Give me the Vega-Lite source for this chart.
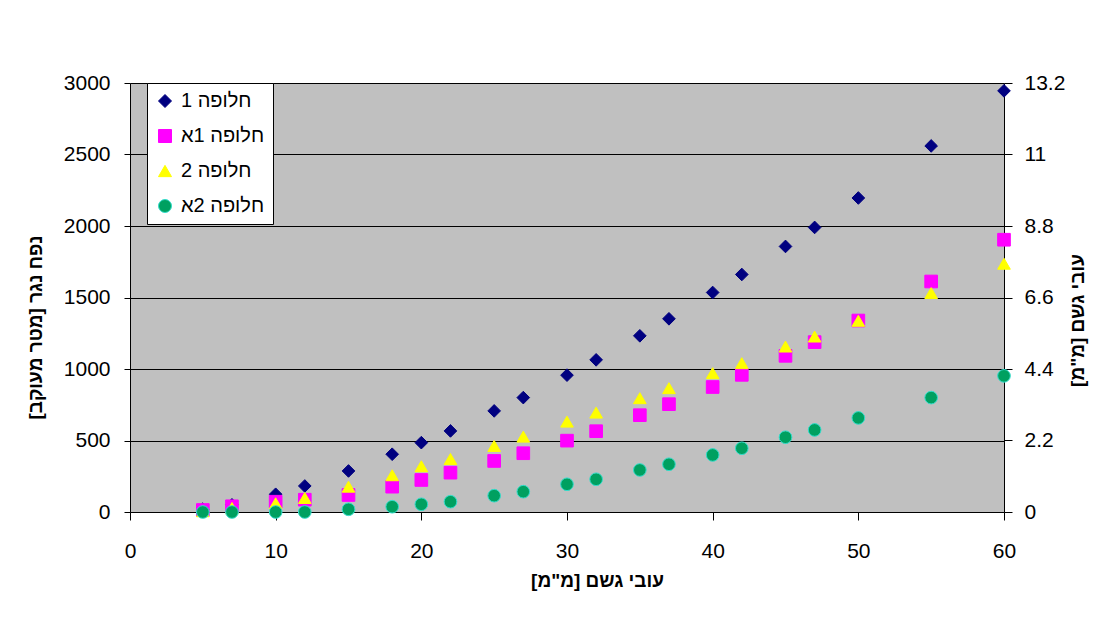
{
  "$schema": "https://vega.github.io/schema/vega-lite/v6.json",
  "width": 874,
  "height": 429,
  "autosize": "none",
  "padding": {"left": 130, "top": 83, "right": 98, "bottom": 107},
  "background": "white",
  "config": {
    "view": {"fill": "#C0C0C0", "stroke": null},
    "font": "Liberation Sans",
    "legend": {
      "orient": "none",
      "legendX": 17,
      "legendY": 0,
      "fillColor": "white",
      "strokeColor": "#000000",
      "padding": 8,
      "rowPadding": 15,
      "labelFontSize": 20,
      "labelFont": "Liberation Sans",
      "labelColor": "#000000",
      "labelOffset": 6,
      "symbolSize": 169,
      "symbolStrokeWidth": 1,
      "labelExpr": "'\u202B' + datum.label + '\u202C'"
    }
  },
  "layer": [
    {
      "data": {
        "values": [
          {"series": "חלופה 1", "rain": 5, "volume": 20},
          {"series": "חלופה 1", "rain": 7, "volume": 50},
          {"series": "חלופה 1", "rain": 10, "volume": 124},
          {"series": "חלופה 1", "rain": 12, "volume": 182},
          {"series": "חלופה 1", "rain": 15, "volume": 287},
          {"series": "חלופה 1", "rain": 18, "volume": 404},
          {"series": "חלופה 1", "rain": 20, "volume": 485},
          {"series": "חלופה 1", "rain": 22, "volume": 567},
          {"series": "חלופה 1", "rain": 25, "volume": 707},
          {"series": "חלופה 1", "rain": 27, "volume": 800},
          {"series": "חלופה 1", "rain": 30, "volume": 957},
          {"series": "חלופה 1", "rain": 32, "volume": 1064},
          {"series": "חלופה 1", "rain": 35, "volume": 1232},
          {"series": "חלופה 1", "rain": 37, "volume": 1351},
          {"series": "חלופה 1", "rain": 40, "volume": 1535},
          {"series": "חלופה 1", "rain": 42, "volume": 1661},
          {"series": "חלופה 1", "rain": 45, "volume": 1857},
          {"series": "חלופה 1", "rain": 47, "volume": 1990},
          {"series": "חלופה 1", "rain": 50, "volume": 2196},
          {"series": "חלופה 1", "rain": 55, "volume": 2560},
          {"series": "חלופה 1", "rain": 60, "volume": 2945},
          {"series": "חלופה 1א", "rain": 5, "volume": 14},
          {"series": "חלופה 1א", "rain": 7, "volume": 40},
          {"series": "חלופה 1א", "rain": 10, "volume": 72},
          {"series": "חלופה 1א", "rain": 12, "volume": 86},
          {"series": "חלופה 1א", "rain": 15, "volume": 119},
          {"series": "חלופה 1א", "rain": 18, "volume": 177},
          {"series": "חלופה 1א", "rain": 20, "volume": 224},
          {"series": "חלופה 1א", "rain": 22, "volume": 275},
          {"series": "חלופה 1א", "rain": 25, "volume": 357},
          {"series": "חלופה 1א", "rain": 27, "volume": 411},
          {"series": "חלופה 1א", "rain": 30, "volume": 499},
          {"series": "חלופה 1א", "rain": 32, "volume": 565},
          {"series": "חלופה 1א", "rain": 35, "volume": 677},
          {"series": "חלופה 1א", "rain": 37, "volume": 754},
          {"series": "חלופה 1א", "rain": 40, "volume": 874},
          {"series": "חלופה 1א", "rain": 42, "volume": 959},
          {"series": "חלופה 1א", "rain": 45, "volume": 1092},
          {"series": "חלופה 1א", "rain": 47, "volume": 1188},
          {"series": "חלופה 1א", "rain": 50, "volume": 1339},
          {"series": "חלופה 1א", "rain": 55, "volume": 1612},
          {"series": "חלופה 1א", "rain": 60, "volume": 1904},
          {"series": "חלופה 2", "rain": 5, "volume": 5},
          {"series": "חלופה 2", "rain": 7, "volume": 28},
          {"series": "חלופה 2", "rain": 10, "volume": 61},
          {"series": "חלופה 2", "rain": 12, "volume": 98},
          {"series": "חלופה 2", "rain": 15, "volume": 177},
          {"series": "חלופה 2", "rain": 18, "volume": 257},
          {"series": "חלופה 2", "rain": 20, "volume": 320},
          {"series": "חלופה 2", "rain": 22, "volume": 371},
          {"series": "חלופה 2", "rain": 25, "volume": 462},
          {"series": "חלופה 2", "rain": 27, "volume": 527},
          {"series": "חלופה 2", "rain": 30, "volume": 632},
          {"series": "חלופה 2", "rain": 32, "volume": 695},
          {"series": "חלופה 2", "rain": 35, "volume": 796},
          {"series": "חלופה 2", "rain": 37, "volume": 866},
          {"series": "חלופה 2", "rain": 40, "volume": 971},
          {"series": "חלופה 2", "rain": 42, "volume": 1041},
          {"series": "חלופה 2", "rain": 45, "volume": 1157},
          {"series": "חלופה 2", "rain": 47, "volume": 1227},
          {"series": "חלופה 2", "rain": 50, "volume": 1337},
          {"series": "חלופה 2", "rain": 55, "volume": 1531},
          {"series": "חלופה 2", "rain": 60, "volume": 1736},
          {"series": "חלופה 2א", "rain": 5, "volume": 0},
          {"series": "חלופה 2א", "rain": 7, "volume": 0},
          {"series": "חלופה 2א", "rain": 10, "volume": 0},
          {"series": "חלופה 2א", "rain": 12, "volume": 0},
          {"series": "חלופה 2א", "rain": 15, "volume": 19},
          {"series": "חלופה 2א", "rain": 18, "volume": 37},
          {"series": "חלופה 2א", "rain": 20, "volume": 54},
          {"series": "חלופה 2א", "rain": 22, "volume": 72},
          {"series": "חלופה 2א", "rain": 25, "volume": 114},
          {"series": "חלופה 2א", "rain": 27, "volume": 142},
          {"series": "חלופה 2א", "rain": 30, "volume": 194},
          {"series": "חלופה 2א", "rain": 32, "volume": 229},
          {"series": "חלופה 2א", "rain": 35, "volume": 294},
          {"series": "חלופה 2א", "rain": 37, "volume": 334},
          {"series": "חלופה 2א", "rain": 40, "volume": 399},
          {"series": "חלופה 2א", "rain": 42, "volume": 446},
          {"series": "חלופה 2א", "rain": 45, "volume": 523},
          {"series": "חלופה 2א", "rain": 47, "volume": 574},
          {"series": "חלופה 2א", "rain": 50, "volume": 658},
          {"series": "חלופה 2א", "rain": 55, "volume": 800},
          {"series": "חלופה 2א", "rain": 60, "volume": 952}
        ]
      },
      "mark": {"type": "point", "filled": true, "size": 160, "strokeWidth": 1, "opacity": 1},
      "encoding": {
        "x": {
          "field": "rain",
          "type": "quantitative",
          "scale": {"domain": [0, 60], "nice": false},
          "axis": {
            "values": [0, 10, 20, 30, 40, 50, 60],
            "format": "d",
            "grid": false,
            "domainColor": "#000000",
            "tickColor": "#000000",
            "tickSize": 8,
            "labelPadding": 20,
            "labelFlush": false,
            "labelFontSize": 21,
            "labelColor": "#000000",
            "title": "\u202Bעובי גשם [מ\"מ]\u202C",
            "titleFontSize": 19,
            "titleFontWeight": "bold",
            "titleColor": "#000000",
            "titleX": 467,
            "titleY": 68,
            "titleAlign": "center",
            "titleBaseline": "middle"
          }
        },
        "y": {
          "field": "volume",
          "type": "quantitative",
          "scale": {"domain": [0, 3000], "nice": false},
          "axis": {
            "values": [0, 500, 1000, 1500, 2000, 2500, 3000],
            "format": "d",
            "grid": true,
            "gridColor": "#000000",
            "gridOpacity": 1,
            "gridWidth": 1,
            "domainColor": "#000000",
            "tickColor": "#000000",
            "tickSize": 6,
            "labelPadding": 14,
            "labelFontSize": 21,
            "labelColor": "#000000",
            "labelFlush": false,
            "title": "\u202Bנפח נגר [מטר מעוקב]\u202C",
            "titleFontSize": 19,
            "titleFontWeight": "bold",
            "titleColor": "#000000",
            "titleAngle": 270,
            "titleX": -95,
            "titleY": 244,
            "titleAlign": "center",
            "titleBaseline": "middle"
          }
        },
        "shape": {
          "field": "series",
          "type": "nominal",
          "scale": {"domain": ["חלופה 1", "חלופה 1א", "חלופה 2", "חלופה 2א"], "range": ["diamond", "square", "triangle-up", "circle"]},
          "legend": {"title": null}
        },
        "fill": {
          "field": "series",
          "type": "nominal",
          "scale": {"domain": ["חלופה 1", "חלופה 1א", "חלופה 2", "חלופה 2א"], "range": ["#000080", "#FF00FF", "#FFFF00", "#00A060"]},
          "legend": {"title": null}
        },
        "stroke": {
          "field": "series",
          "type": "nominal",
          "scale": {"domain": ["חלופה 1", "חלופה 1א", "חלופה 2", "חלופה 2א"], "range": ["#000080", "#FF00FF", "#FFFF00", "#33DDCC"]},
          "legend": {"title": null}
        }
      }
    },
    {
      "data": {"values": [{"r": 0}, {"r": 13.2}]},
      "mark": {"type": "point", "opacity": 0},
      "encoding": {
        "y": {
          "field": "r",
          "type": "quantitative",
          "scale": {"domain": [0, 13.2], "nice": false},
          "axis": {
            "orient": "right",
            "values": [0, 2.2, 4.4, 6.6, 8.8, 11, 13.2],
            "format": ".1~f",
            "grid": false,
            "domainColor": "#000000",
            "tickColor": "#000000",
            "tickSize": 8,
            "labelPadding": 12,
            "labelFontSize": 21,
            "labelColor": "#000000",
            "labelFlush": false,
            "title": "\u202Bעובי גשם [מ\"מ]\u202C",
            "titleFontSize": 19,
            "titleFontWeight": "bold",
            "titleColor": "#000000",
            "titleAngle": 270,
            "titleX": 73,
            "titleY": 237,
            "titleAlign": "center",
            "titleBaseline": "middle"
          }
        }
      }
    }
  ],
  "resolve": {"scale": {"y": "independent"}}
}
